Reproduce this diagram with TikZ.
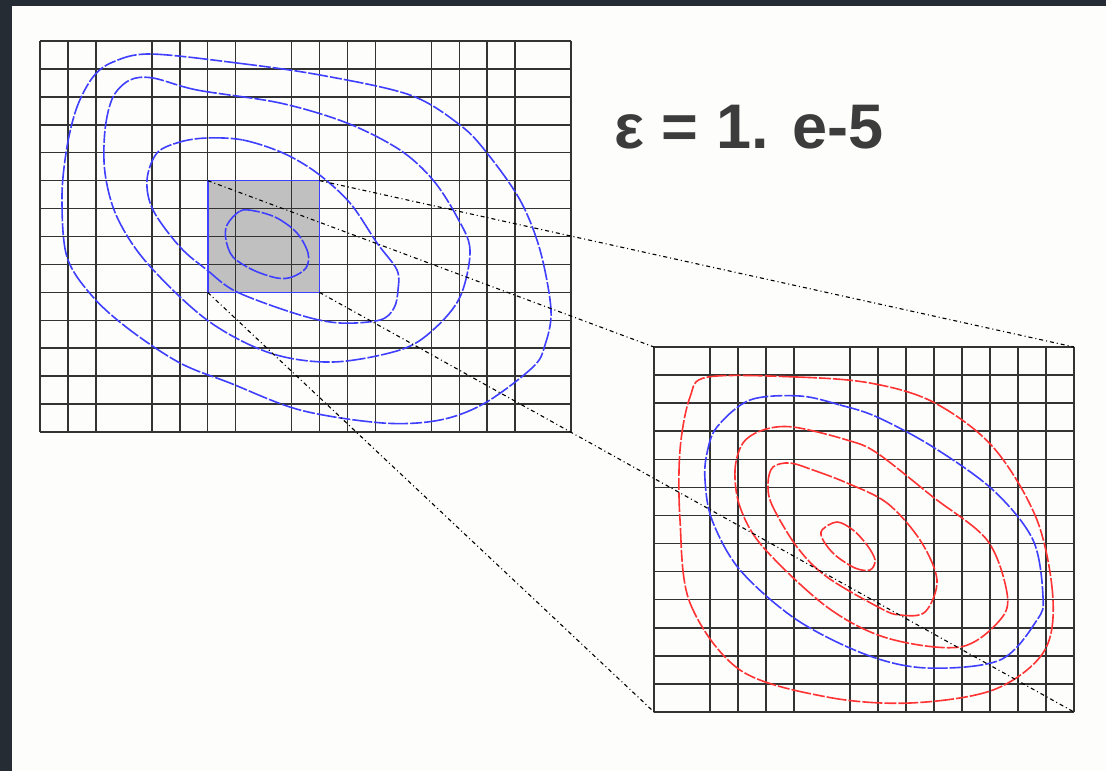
\documentclass[tikz,border=0pt]{standalone}
\usepackage{fontspec}
\setmainfont{Liberation Sans}
\usetikzlibrary{fit}
\definecolor{slate}{HTML}{262C33}
\definecolor{paper}{HTML}{FDFDFB}
\definecolor{cblue}{HTML}{3F3FFF}
\definecolor{cred}{HTML}{FF3333}
\definecolor{shade}{HTML}{C0C0C0}
\definecolor{ink}{HTML}{3C3C3C}
\begin{document}
\begin{tikzpicture}[x=0.5pt, y=-0.5pt,
  gridline/.style={draw=black!80, line width=0.75pt},
  contour/.style={line width=0.8pt, dash pattern=on 10pt off 1pt on 6pt off 1pt},
  zoomline/.style={black, line width=0.55pt, dash pattern=on 2pt off 1.5pt on 0.5pt off 1.5pt},
  frame/.style={inner sep=0pt, outer sep=0pt}]
\useasboundingbox (0,0) rectangle (1106,771);
\fill[slate] (0,0) rectangle (1106,771);
\fill[paper] (12,6) rectangle (1106,771);
\node[frame, fit={(40,41) (571,432)}] (coarse) {};
\node[frame, fit={(207.7,180.6) (319.5,292.4)}, fill=shade] (zoom) {};
\node[frame, fit={(654,347) (1074,712)}] (fine) {};
\foreach \i in {0,1,2,4,5,6,7,9,10,11,12,14,15,16,17,19}
  \draw[gridline] ({40+27.95*\i},41) -- ({40+27.95*\i},432);
\foreach \j in {0,...,14}
  \draw[gridline] (40,{41+27.93*\j}) -- (571,{41+27.93*\j});
\foreach \i in {0,2,3,4,5,7,8,9,10,11,12,13,14,15}
  \draw[gridline] ({654+28*\i},347) -- ({654+28*\i},712);
\foreach \j in {0,...,13}
  \draw[gridline] (654,{347+28.077*\j}) -- (1074,{347+28.077*\j});
\draw[contour, cblue] plot[smooth cycle, tension=0.55] coordinates {(150,54) (237,63) (320,75) (410,95) (460,125) (487,153) (520,200) (540,250) (551,310) (545,345) (533,367) (485,403) (440,420) (383,423) (300,410) (230,383) (180,363) (130,330) (93,297) (67,257) (62,197) (67,147) (77,107) (93,77) (113,62)};
\draw[contour, cblue] plot[smooth cycle, tension=0.55] coordinates {(153,78) (197,90) (280,103) (347,123) (400,150) (433,180) (457,217) (470,250) (460,297) (433,330) (400,350) (333,362) (270,353) (207,320) (147,263) (117,217) (105,173) (105,130) (113,97) (130,80)};
\draw[contour, cblue] plot[smooth cycle, tension=0.55] coordinates {(207,138) (243,140) (283,153) (317,173) (350,203) (377,243) (397,270) (398,290) (394,308) (380,320) (340,323) (300,315) (237,292) (207,270) (180,247) (153,210) (147,180) (157,153) (180,142)};
\draw[contour, cblue] plot[smooth cycle, tension=0.55] coordinates {(227,225) (240,211) (255,211) (277,218) (297,233) (308,253) (306,268) (292,277) (277,278) (253,270) (233,257) (226,240)};
\draw[cblue, line width=0.8pt] (zoom.north west) rectangle (zoom.south east);
\draw[contour, cred] plot[smooth cycle, tension=0.55] coordinates {(708,377) (797,377) (870,383) (933,402) (993,447) (1037,520) (1053,600) (1043,653) (993,690) (910,703) (827,697) (740,670) (690,603) (680,520) (680,450) (690,397)};
\draw[contour, cblue] plot[smooth cycle, tension=0.55] coordinates {(800,396) (840,405) (877,417) (933,447) (993,490) (1033,540) (1043,597) (1037,620) (1000,660) (927,668) (867,655) (797,620) (740,570) (712,520) (705,480) (707,453) (717,427) (750,400)};
\draw[contour, cred] plot[smooth cycle, tension=0.55] coordinates {(793,427) (847,440) (877,453) (933,497) (987,540) (1007,593) (1000,620) (960,647) (887,638) (827,607) (763,547) (740,507) (735,470) (743,443) (763,430)};
\draw[contour, cred] plot[smooth cycle, tension=0.55] coordinates {(790,463) (813,470) (847,483) (887,503) (920,540) (937,580) (925,612) (900,615) (880,608) (827,577) (797,547) (772,505) (768,483) (773,467)};
\draw[contour, cred] plot[smooth cycle, tension=0.55] coordinates {(822,530) (837,522) (853,530) (867,545) (875,560) (870,570) (855,568) (835,555) (823,540)};
\draw[zoomline] (zoom.north west) -- (fine.north west);
\draw[zoomline] (zoom.north east) -- (fine.north east);
\draw[zoomline] (zoom.south west) -- (fine.south west);
\draw[zoomline] (zoom.south east) -- (fine.south east);
\node[anchor=base west, inner sep=0pt, text=ink, font=\fontsize{31.5}{36}\selectfont\bfseries] (eps) at (614,148) {ε = 1. e-5};
\end{tikzpicture}
\end{document}
